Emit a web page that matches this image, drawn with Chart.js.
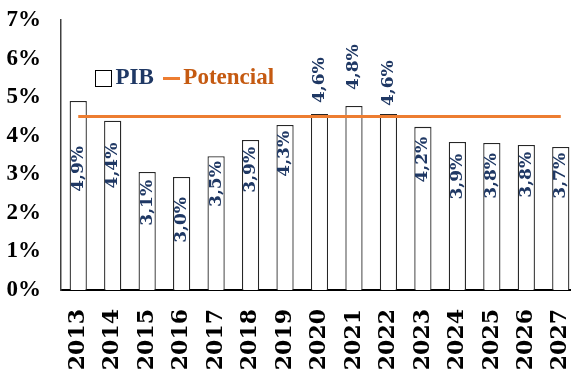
<!DOCTYPE html>
<html>
<head>
<meta charset="utf-8">
<script src="https://cdn.jsdelivr.net/npm/chart.js@4.4.1/dist/chart.umd.min.js"></script>
<style>
  html, body { margin: 0; padding: 0; background: #fff; overflow: hidden; }
  /* plot runs a few px past the right edge of the window, as in the original */
  #wrap { width: 578px; height: 375px; position: relative; }
</style>
</head>
<body>
<div id="wrap"><canvas id="pibChart"></canvas></div>
<script>
  // values
  var years = ['2013', '2014', '2015', '2016', '2017', '2018', '2019', '2020',
               '2021', '2022', '2023', '2024', '2025', '2026', '2027'];
  var pib = [4.90, 4.39, 3.06, 2.93, 3.47, 3.89, 4.28, 4.56, 4.77, 4.56, 4.23, 3.84, 3.81, 3.76, 3.71];
  var pibLabels = ['4,9%', '4,4%', '3,1%', '3,0%', '3,5%', '3,9%', '4,3%', '4,6%',
                   '4,8%', '4,6%', '4,2%', '3,9%', '3,8%', '3,8%', '3,7%'];
  var potencial = [4.5, 4.5, 4.5, 4.5, 4.5, 4.5, 4.5, 4.5, 4.5, 4.5, 4.5, 4.5, 4.5, 4.5, 4.5];

  // label placement (px from bar top, negative = above the bar)
  var labelGap = [45, 22, 8, 20, 5, 7, 6, -11, -16, -8, 10, 12, 10, 7, 6];

  var navy = '#1F3864';
  var orange = '#ED7D31';

  // legend markers drawn as small canvases so they sit close to the text
  function markerBox() {
    var c = document.createElement('canvas');
    c.width = 17; c.height = 17;
    var g = c.getContext('2d');
    g.fillStyle = '#ffffff';
    g.fillRect(0.5, 0.5, 16, 16);
    g.strokeStyle = '#000000';
    g.lineWidth = 1;
    g.strokeRect(0.5, 0.5, 16, 16);
    return c;
  }
  function markerLine() {
    var c = document.createElement('canvas');
    c.width = 17; c.height = 3;
    var g = c.getContext('2d');
    g.fillStyle = orange;
    g.fillRect(0, 0, 17, 3);
    return c;
  }

  var barLabels = {
    id: 'barLabels',
    afterDatasetsDraw: function(chart) {
      var ctx = chart.ctx;
      var meta = chart.getDatasetMeta(0);
      ctx.save();
      ctx.font = 'bold 17px "DejaVu Serif"';
      ctx.fillStyle = navy;
      ctx.textBaseline = 'middle';
      meta.data.forEach(function(bar, i) {
        var gap = labelGap[i];
        ctx.save();
        ctx.translate(bar.x, bar.y + gap);
        ctx.rotate(-Math.PI / 2);
        ctx.textAlign = gap < 0 ? 'left' : 'right';
        ctx.fillText(pibLabels[i], 0, 0);
        ctx.restore();
      });
      ctx.restore();
    }
  };

  // keep the legend out of the layout and put it inside the plot
  var legendInside = {
    id: 'legendInside',
    afterInit: function(chart) {
      var lg = chart.legend;
      var fit = lg.fit;
      lg.fit = function() {
        fit.call(this);
        this.realHeight = this.height;
        this.height = 0;
      };
    },
    afterLayout: function(chart) {
      var lg = chart.legend;
      lg.left = 86;
      lg.top = 50;
      lg.right = lg.left + 400;
      lg.bottom = lg.top + lg.realHeight;
      if (lg.adjustHitBoxes) lg.adjustHitBoxes();
    }
  };

  var ctx = document.getElementById('pibChart').getContext('2d');
  var chart = new Chart(ctx, {
    type: 'bar',
    data: {
      labels: years,
      datasets: [{
        label: 'PIB',
        data: pib,
        backgroundColor: '#ffffff',
        borderColor: '#262626',
        borderWidth: 1.3,
        barPercentage: 0.5,
        categoryPercentage: 1,
        order: 2
      }, {
        type: 'line',
        label: 'Potencial',
        data: potencial,
        borderColor: orange,
        borderWidth: 3,
        pointRadius: 0,
        fill: false,
        order: 1
      }]
    },
    options: {
      responsive: true,
      maintainAspectRatio: false,
      animation: false,
      layout: { padding: { top: 20, left: 0, right: 0, bottom: 0 } },
      plugins: {
        tooltip: { enabled: false },
        legend: {
          position: 'top',
          align: 'start',
          labels: {
            usePointStyle: true,
            pointStyleWidth: 1,
            boxHeight: 16,
            padding: 17,
            font: { family: '"Liberation Serif"', size: 23, weight: 'bold' },
            generateLabels: function() {
              return [
                { text: 'PIB', pointStyle: markerBox(), fontColor: navy,
                  datasetIndex: 0, hidden: false, lineWidth: 0 },
                { text: 'Potencial', pointStyle: markerLine(), fontColor: '#C55A11',
                  datasetIndex: 1, hidden: false, lineWidth: 0 }
              ];
            }
          }
        }
      },
      scales: {
        x: {
          grid: { display: false, drawTicks: false },
          border: { display: true, color: '#000000', width: 2 },
          ticks: {
            minRotation: 90,
            maxRotation: 90,
            autoSkip: false,
            padding: 19,
            color: '#000000',
            font: { family: '"DejaVu Serif"', size: 22, weight: 'bold' }
          },
          afterFit: function(s) {
            s.height = 85;
            s.paddingLeft = 0;
            s.paddingRight = 0;
          }
        },
        y: {
          min: 0,
          max: 7,
          grid: { display: false, drawTicks: false },
          border: { display: true, color: '#404040', width: 1.5 },
          ticks: {
            stepSize: 1,
            padding: 20,
            color: '#000000',
            font: { family: '"Liberation Serif"', size: 23, weight: 'bold' },
            callback: function(v) { return v + '%'; }
          },
          afterFit: function(s) {
            s.width = 61;
            s.paddingTop = 0;
            s.paddingBottom = 0;
          }
        }
      }
    },
    plugins: [barLabels, legendInside]
  });
</script>
</body>
</html>
